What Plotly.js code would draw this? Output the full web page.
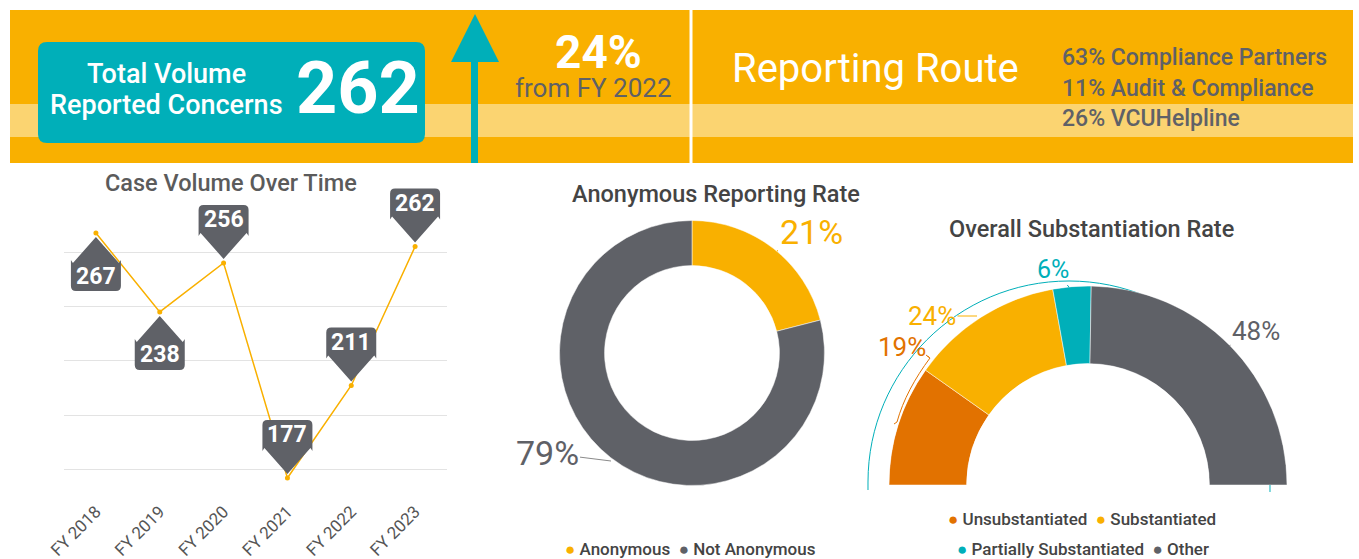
<!DOCTYPE html>
<html><head><meta charset="utf-8">
<script src="https://cdn.plot.ly/plotly-3.0.1.min.js"></script>
<style>html,body{margin:0;padding:0;background:#fff;overflow:hidden}#chart{width:1359px;height:559px}</style>
</head><body><div id="chart"></div>
<script>
// ---------- DATA ----------
const years = ['FY 2018','FY 2019','FY 2020','FY 2021','FY 2022','FY 2023'];
const caseCounts = [267, 238, 256, 177, 211, 262];
const anonLabels = ['Anonymous', 'Not Anonymous'];
const anonValues = [21, 79];
const substLabels = ['Unsubstantiated', 'Substantiated', 'Partially Substantiated', 'Other'];
const substValues = [19, 24, 6, 48];
const routeLabels = ['Compliance Partners', 'Audit & Compliance', 'VCUHelpline'];
const routeValues = [63, 11, 26];
const totalVolume = 262;
const changePct = 24;
const compareYear = 'FY 2022';

// ---------- STYLE ----------
const W = 1359, H = 559;
const fx = x => x / W, fy = y => 1 - y / H;
const ORANGE = '#F9B000', STRIPE = '#FBD471', TEAL = '#00AFB9', GREY = '#5F6167', DORANGE = '#E27200';
const FONT = 'Roboto, "Open Sans", sans-serif';
const pinSide = [-1, -1, 1, 1, 1, 1]; // -1 = label below point, 1 = above
const anonColors = [ORANGE, GREY];
const substColors = [DORANGE, ORANGE, TEAL, GREY];

function P(x, y) { return fx(x).toFixed(5) + ',' + fy(y).toFixed(5); }
function rectPath(x0, y0, x1, y1, r) {
  return 'M' + P(x0 + r, y0) + ' L' + P(x1 - r, y0) + ' Q' + P(x1, y0) + ' ' + P(x1, y0 + r) +
    ' L' + P(x1, y1 - r) + ' Q' + P(x1, y1) + ' ' + P(x1 - r, y1) + ' L' + P(x0 + r, y1) +
    ' Q' + P(x0, y1) + ' ' + P(x0, y1 - r) + ' L' + P(x0, y0 + r) + ' Q' + P(x0, y0) + ' ' + P(x0 + r, y0) + ' Z';
}
function paperRect(x0, y0, x1, y1, color) {
  return {type: 'rect', xref: 'paper', yref: 'paper', x0: fx(x0), x1: fx(x1), y0: fy(y1), y1: fy(y0),
    fillcolor: color, line: {width: 0}, layer: 'below'};
}

const shapes = [];
// banner
shapes.push(paperRect(10, 10, 1353, 163, ORANGE));
shapes.push(paperRect(10, 104, 1353, 137, STRIPE));
shapes.push({type: 'line', xref: 'paper', yref: 'paper', x0: fx(691), x1: fx(691), y0: fy(10), y1: fy(163),
  line: {color: '#ffffff', width: 3}, layer: 'below'});
shapes.push({type: 'path', xref: 'paper', yref: 'paper', path: rectPath(38, 42, 425, 143, 9),
  fillcolor: TEAL, line: {width: 0}, layer: 'below'});
// arrow
shapes.push(paperRect(471, 60, 478, 163, TEAL));
shapes.push({type: 'path', xref: 'paper', yref: 'paper',
  path: 'M' + P(451, 62) + ' L' + P(475, 14) + ' L' + P(499, 62) + ' Z', fillcolor: TEAL, line: {width: 0}, layer: 'below'});
// teal guide arc around the half donut
(function () {
  const cx = 1069, cy = 482, r = 201, k = 0.5523 * r;
  shapes.push({type: 'path', xref: 'paper', yref: 'paper', layer: 'below',
    path: 'M' + P(cx - r, cy + 8) + ' L' + P(cx - r, cy) + ' C' + P(cx - r, cy - k) + ' ' + P(cx - k, cy - r) + ' ' + P(cx, cy - r) +
      ' C' + P(cx + k, cy - r) + ' ' + P(cx + r, cy - k) + ' ' + P(cx + r, cy) + ' L' + P(cx + r, cy + 10),
    line: {color: TEAL, width: 1}});
  // small orange bracket for 19%
  shapes.push({type: 'path', xref: 'paper', yref: 'paper', layer: 'below',
    path: 'M' + P(926, 355) + ' L' + P(930, 358) + ' C' + P(915, 378) + ' ' + P(903, 400) + ' ' + P(897, 422) + ' L' + P(894, 424),
    line: {color: DORANGE, width: 1}});
})();

// pins on line chart (pixel sized, anchored to data points)
function pinPath(s) {
  const t = 4 * s, b = 30 * s, b2 = 27 * s, top = 58 * s, c = 5 * s;
  return 'M0,' + t + ' L23,' + b + ' Q25,' + b2 + ' 25,' + b2 + ' L25,' + (top - c) +
    ' Q25,' + top + ' 20,' + top + ' L-20,' + top + ' Q-25,' + top + ' -25,' + (top - c) + ' L-25,' + b2 +
    ' Q-25,' + b2 + ' -23,' + b + ' Z';
}
caseCounts.forEach((v, i) => {
  shapes.push({type: 'path', xref: 'x', yref: 'y', xsizemode: 'pixel', ysizemode: 'pixel',
    xanchor: i, yanchor: v, path: pinPath(pinSide[i]), fillcolor: GREY, line: {width: 0}, layer: 'above'});
});

const annotations = [];
function txt(x, y, text, size, color, opts, weight) {
  annotations.push(Object.assign({xref: 'paper', yref: 'paper', x: fx(x), y: fy(y), text: text, showarrow: false,
    xanchor: 'center', yanchor: 'middle', font: {family: FONT, size: size, color: color, weight: weight || 400}}, opts || {}));
}
// banner texts
txt(166, 74, 'Total Volume', 27, '#ffffff', null, 500);
txt(166, 105, 'Reported Concerns', 27, '#ffffff', null, 500);
txt(358, 88, String(totalVolume), 72, '#ffffff', null, 700);
txt(598, 52, changePct + '%', 46, '#ffffff', null, 700);
txt(593, 88, 'from ' + compareYear, 26, GREY, null, 400);
txt(875, 68, 'Reporting Route', 40, '#ffffff', null, 400);
routeLabels.forEach((l, i) => txt(1060, 57 + 31 * i, routeValues[i] + '% ' + l, 23, GREY, {xanchor: 'left'}, 500));
// titles
txt(231, 183, 'Case Volume Over Time', 23.5, '#5b5b5b', null, 500);
txt(716, 194, 'Anonymous Reporting Rate', 23.5, '#444444', null, 500);
txt(1091, 229, 'Overall Substantiation Rate', 23.5, '#444444', null, 500);
// pin labels
caseCounts.forEach((v, i) => {
  annotations.push({xref: 'x', yref: 'y', x: i, y: v, text: String(v), showarrow: false, yshift: 43 * pinSide[i],
    xanchor: 'center', yanchor: 'middle', font: {family: FONT, size: 23, color: '#ffffff', weight: 700}});
});
// ring labels with leaders
function lbl(tipX, tipY, textX, textY, text, size, color, lineColor) {
  annotations.push({xref: 'paper', yref: 'paper', x: fx(tipX), y: fy(tipY), ax: textX - tipX, ay: textY - tipY,
    text: text, showarrow: true, arrowhead: 0, arrowwidth: 1, arrowcolor: lineColor, standoff: 0,
    xanchor: 'center', yanchor: 'middle', font: {family: FONT, size: size, color: color}});
}
lbl(777, 251, 811, 232, anonValues[0] + '%', 34, ORANGE, ORANGE);
lbl(611, 461, 547, 453, anonValues[1] + '%', 34, GREY, '#8a8a8a');
lbl(1069, 287, 1053, 269, substValues[2] + '%', 25, TEAL, TEAL);
lbl(977, 316, 932, 316, substValues[1] + '%', 26, ORANGE, ORANGE);
lbl(929, 357, 902, 347, substValues[0] + '%', 26, DORANGE, DORANGE);
lbl(1229, 346, 1256, 331, substValues[3] + '%', 26, GREY, '#8a8a8a');
// legends
function dot(c) { return '<span style="color:' + c + '">●</span> '; }
txt(690, 549, dot(anonColors[0]) + anonLabels[0] + '  ' + dot(anonColors[1]) + anonLabels[1], 17, '#444444', null, 500);
txt(1082, 519, dot(substColors[0]) + substLabels[0] + '  ' + dot(substColors[1]) + substLabels[1], 17, '#444444', null, 500);
txt(1083, 549, dot(substColors[2]) + substLabels[2] + '  ' + dot(substColors[3]) + substLabels[3], 17, '#444444', null, 500);

// half-donut angular geometry derived from the values
const substTotal = substValues.reduce((a, b) => a + b, 0);
const thetas = [], widths = [];
let cum = 0;
substValues.forEach(v => { const w = v / substTotal * 180; thetas.push(cum + w / 2); widths.push(w); cum += w; });

const traces = [
  {type: 'scatter', mode: 'lines+markers', x: years, y: caseCounts, xaxis: 'x', yaxis: 'y',
    line: {color: ORANGE, width: 1.5}, marker: {color: ORANGE, size: 5}, hoverinfo: 'skip', cliponaxis: false},
  {type: 'pie', labels: anonLabels, values: anonValues, hole: 0.66, sort: false, direction: 'clockwise', rotation: 0,
    marker: {colors: anonColors, line: {color: '#ffffff', width: 0.5}}, textinfo: 'none', hoverinfo: 'skip',
    domain: {x: [fx(559.5), fx(824.5)], y: [fy(485.5), fy(220.5)]}},
  {type: 'barpolar', subplot: 'polar', r: substValues.map(() => 1), theta: thetas, width: widths,
    marker: {color: substColors, line: {color: '#ffffff', width: 0.5}}, hoverinfo: 'skip', text: substLabels}
];

const layout = {
  width: W, height: H, margin: {l: 0, r: 0, t: 0, b: 0}, paper_bgcolor: '#ffffff', plot_bgcolor: 'rgba(0,0,0,0)',
  showlegend: false, font: {family: FONT},
  xaxis: {domain: [fx(64), fx(447)], range: [-0.5, 5.5], type: 'category', showgrid: false, zeroline: false, showline: false,
    tickangle: -45, tickfont: {family: FONT, size: 17, color: '#555555'}, ticks: '', ticklabelstandoff: 6, fixedrange: true},
  yaxis: {domain: [fy(491.6), fy(170.4)], range: [172, 290], tickvals: [180, 200, 220, 240, 260], showticklabels: false,
    gridcolor: '#e3e3e3', gridwidth: 1, zeroline: false, showline: false, ticks: '', fixedrange: true},
  polar: {domain: {x: [fx(889), fx(1287)], y: [fy(485), fy(286)]}, sector: [0, 180], hole: 0.61, bgcolor: 'rgba(0,0,0,0)',
    radialaxis: {visible: false, range: [0, 1]}, angularaxis: {visible: false, rotation: 180, direction: 'clockwise'}},
  shapes: shapes, annotations: annotations
};
Plotly.newPlot('chart', traces, layout, {staticPlot: true, displayModeBar: false});
</script></body></html>
